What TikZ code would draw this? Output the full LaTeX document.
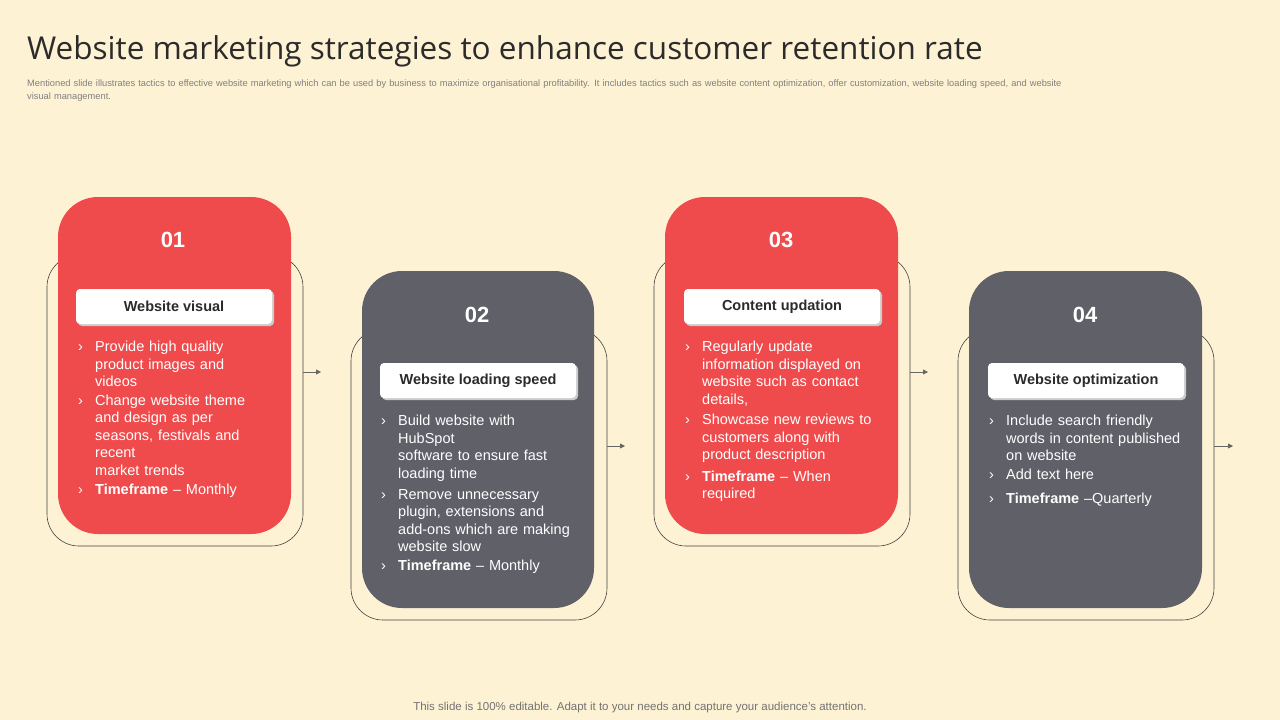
\documentclass[tikz,border=0pt]{standalone}
\usepackage{fontspec}
\setmainfont{Liberation Sans}
\newfontfamily\titlefont{Open Sans}
\usetikzlibrary{arrows.meta}
\definecolor{bgcream}{HTML}{FEF2D4}
\definecolor{cardred}{HTML}{F04B4C}
\definecolor{cardgray}{HTML}{5F6068}
\definecolor{titlegray}{HTML}{2B2B2B}
\newcommand{\nohyph}{\hyphenpenalty=10000\relax}
\newcommand{\itm}[1]{\par\noindent\makebox[17pt][l]{›}\parbox[t]{175pt}{\raggedright #1}}
\newcommand{\gap}{\par\vspace{7pt}}
\begin{document}
\begin{tikzpicture}[x=1pt,y=-1pt,>={Triangle[length=5pt,width=5pt]}]
	\def \toprow{197}
	\def \lowrow{271}
	\tikzstyle{outline}=[draw=black!75,line width=0.6pt,rounded corners=32pt]
	\tikzstyle{red-card}=[fill=cardred,rounded corners=40pt]
	\tikzstyle{gray-card}=[fill=cardgray,rounded corners=40pt]
	\tikzstyle{num}=[text=white,font=\fontsize{22}{26}\selectfont\bfseries]
	\tikzstyle{head}=[fill=white,rounded corners=4pt,minimum width=196pt,minimum height=35pt,
		font=\fontsize{14.5}{17}\selectfont\bfseries,text=titlegray]
	\tikzstyle{shade}=[fill=black!20,rounded corners=4pt,minimum width=196pt,minimum height=35pt]
	\tikzstyle{body}=[text=white,anchor=north west,inner sep=0pt,text width=195pt,
		font=\fontsize{14.5}{17.5}\selectfont]
	\tikzstyle{link}=[->,draw=black!60,line width=0.8pt]
	\fill[bgcream] (0,0) rectangle (1280,720);
	% labels
	\node[anchor=base west,inner sep=0pt,text=titlegray,font=\titlefont\fontsize{31.5}{38}\selectfont] (title) at (27,59)
		{Website marketing strategies to enhance customer retention rate};
	\node[anchor=north west,inner sep=0pt,text=black!50,text width=1048pt,align=left,font=\fontsize{9.3}{13}\selectfont] (sub) at (27,80)
		{\nohyph Mentioned slide illustrates tactics to effective website marketing which can be used by business to maximize organisational profitability. It includes tactics such as website content optimization, offer customization, website loading speed, and website visual management.};
	\node[text=black!55,font=\fontsize{11.5}{14}\selectfont] (foot) at (640,708)
		{This slide is 100\% editable. Adapt it to your needs and capture your audience's attention.};

	% card 01
	\draw[outline] (47,255) rectangle (303,546);
	\fill[red-card] (58,\toprow) rectangle (291,534);
	\node[num] (n1) at (173,240) {01};
	\node[shade] at (176,308.5) {};
	\node[head] (h1) at (174,306.5) {Website visual};
	\node[body] (b1) at (78,334) {\itm{Provide high quality\\product images and videos}\gap
		\itm{Change website theme\\and design as per\\seasons, festivals and\\recent\\market trends}\gap
		\itm{\textbf{Timeframe} -- Monthly}};
	\coordinate (e1) at (303,372);
	\coordinate (t1) at (321,372);
	\draw[link] (e1) -- (t1);

	% card 02
	\draw[outline] (351,329) rectangle (607,620);
	\fill[gray-card] (362,\lowrow) rectangle (594,608);
	\node[num] (n2) at (477,315) {02};
	\node[shade] at (480,382.5) {};
	\node[head] (h2) at (478,380.5) {Website loading speed};
	\node[body] (b2) at (381,408) {\itm{Build website with HubSpot\\software to ensure fast\\loading time}\gap
		\itm{Remove unnecessary\\plugin, extensions and\\add-ons which are making\\website slow}\gap
		\itm{\textbf{Timeframe} -- Monthly}};
	\coordinate (e2) at (607,446);
	\coordinate (t2) at (625,446);
	\draw[link] (e2) -- (t2);

	% card 03
	\draw[outline] (654,255) rectangle (910,546);
	\fill[red-card] (665,\toprow) rectangle (898,534);
	\node[num] (n3) at (781,240) {03};
	\node[shade] at (784,308.5) {};
	\node[head] (h3) at (782,306.5) {Content updation};
	\node[body] (b3) at (685,334) {\itm{Regularly update\\information displayed on\\website such as contact\\details,}\gap
		\itm{Showcase new reviews to\\customers along with\\product description}\gap
		\itm{\textbf{Timeframe} -- When\\required}};
	\coordinate (e3) at (910,372);
	\coordinate (t3) at (928,372);
	\draw[link] (e3) -- (t3);

	% card 04
	\draw[outline] (958,329) rectangle (1214,620);
	\fill[gray-card] (969,\lowrow) rectangle (1202,608);
	\node[num] (n4) at (1085,315) {04};
	\node[shade] at (1088,382.5) {};
	\node[head] (h4) at (1086,380.5) {Website optimization};
	\node[body] (b4) at (989,408) {\itm{Include search friendly\\words in content published\\on website}\gap
		\itm{Add text here}\gap
		\itm{\textbf{Timeframe} --Quarterly}};
	\coordinate (e4) at (1214,446);
	\coordinate (t4) at (1233,446);
	\draw[link] (e4) -- (t4);
\end{tikzpicture}
\end{document}
